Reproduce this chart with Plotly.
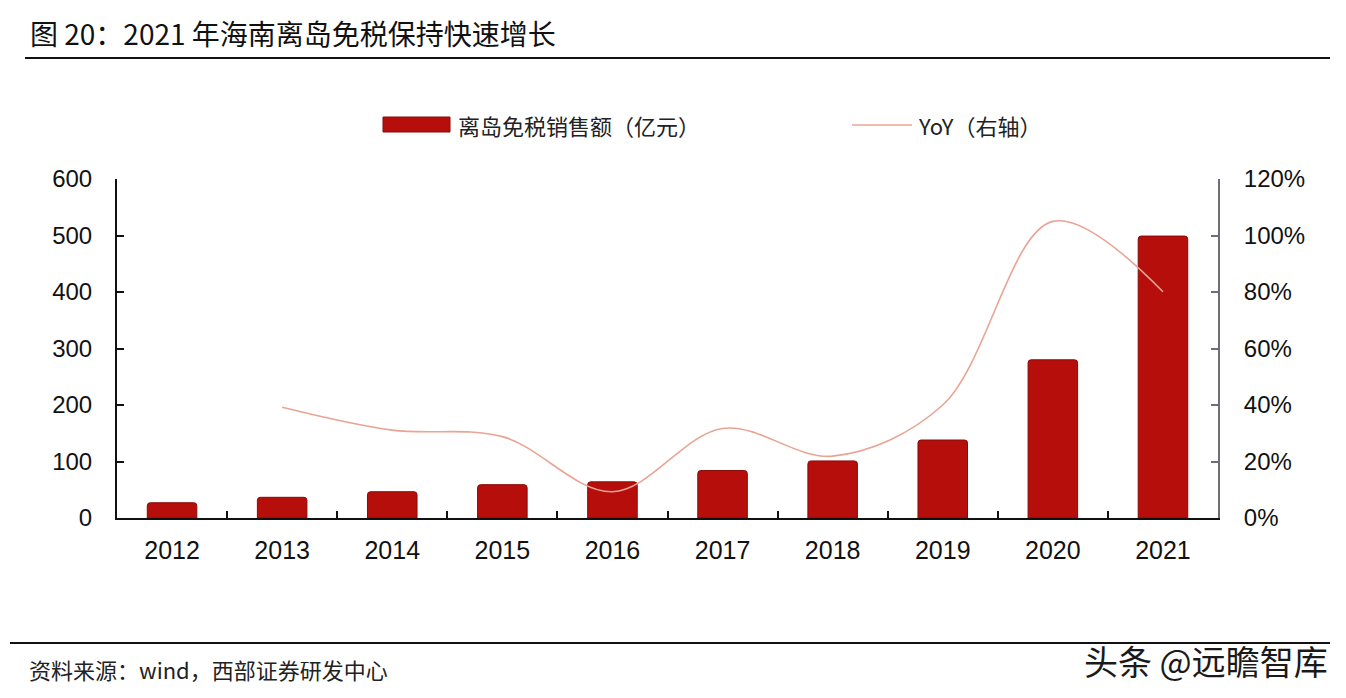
import plotly.graph_objects as go

years = ["2012", "2013", "2014", "2015", "2016", "2017", "2018", "2019", "2020", "2021"]
sales = [27, 36.6, 46.5, 59, 64, 84, 101, 138, 280, 499]
yoy = [None, 39.2, 31.1, 28.8, 9.3, 31.7, 21.9, 40.0, 105.0, 80.1]
left_ticks = [0, 100, 200, 300, 400, 500, 600]
right_ticks = [0, 20, 40, 60, 80, 100, 120]
right_labels = ["0%", "20%", "40%", "60%", "80%", "100%", "120%"]
bar_name = "离岛免税销售额（亿元）"
line_name = "YoY（右轴）"

CJK = "Noto Sans CJK SC"
NUM = "Liberation Sans, Arial"
BAR_COLOR = "#B60F0B"
LINE_COLOR = "#E9A493"

fig = go.Figure()
fig.add_trace(go.Bar(
    x=years, y=sales, name=bar_name,
    marker=dict(color=BAR_COLOR, line=dict(color="#8A0A08", width=1), cornerradius=3),
    width=0.45, showlegend=False,
))
fig.add_trace(go.Scatter(
    x=years, y=yoy, name=line_name, yaxis="y2", mode="lines",
    line=dict(color=LINE_COLOR, width=1.6, shape="spline", smoothing=1.0),
    connectgaps=False, showlegend=False,
))

# page has an 8px body margin; plot area targets x 117..1218, y 179..518 in page pixels
fig.update_layout(
    width=1346, height=698,
    paper_bgcolor="white", plot_bgcolor="white",
    margin=dict(l=109, r=136, t=171, b=188, autoexpand=False),
    font=dict(family=NUM, size=24, color="#111"),
    xaxis=dict(
        type="category", showline=True, linecolor="#111", linewidth=2,
        ticks="inside", ticklen=7, tickcolor="#111", tickwidth=2, tickson="boundaries",
        tickfont=dict(family=NUM, size=25, color="#111"), showgrid=False,
        ticklabelstandoff=9,
    ),
    yaxis=dict(
        range=[0, 600], tickvals=left_ticks, showline=True, linecolor="#111", linewidth=2,
        ticks="inside", ticklen=7, tickcolor="#111", tickwidth=2, showgrid=False,
        zeroline=False, tickfont=dict(family=NUM, size=24, color="#111"),
        ticklabelstandoff=18,
    ),
    yaxis2=dict(
        range=[0, 120], tickvals=right_ticks, ticktext=right_labels, overlaying="y", side="right",
        showline=True, linecolor="#6E6E76", linewidth=2,
        ticks="inside", ticklen=7, tickcolor="#6E6E76", tickwidth=2, showgrid=False,
        zeroline=False, tickfont=dict(family=NUM, size=24, color="#111"),
        ticklabelstandoff=19,
    ),
    showlegend=False,
)

def px_x(p):
    return (p - 117) / 1101

def px_y(p):
    return (518 - p) / 339

# title
fig.add_annotation(
    xref="paper", yref="paper", x=px_x(28), y=px_y(33),
    xanchor="left", yanchor="middle", showarrow=False,
    text="图 20：2021 年海南离岛免税保持快速增长",
    font=dict(family=CJK, size=28, color="#111"),
)
# legend (manual)
fig.add_shape(type="rect", xref="paper", yref="paper",
              x0=px_x(383), x1=px_x(450), y0=px_y(117), y1=px_y(132),
              fillcolor=BAR_COLOR, line=dict(color="#8A0A08", width=1))
fig.add_annotation(
    xref="paper", yref="paper", x=px_x(456), y=px_y(125),
    xanchor="left", yanchor="middle", showarrow=False,
    text=bar_name, font=dict(family=CJK, size=22, color="#222"),
)
fig.add_shape(type="line", xref="paper", yref="paper",
              x0=px_x(852), x1=px_x(912), y0=px_y(125), y1=px_y(125),
              line=dict(color=LINE_COLOR, width=1.6))
fig.add_annotation(
    xref="paper", yref="paper", x=px_x(916), y=px_y(125),
    xanchor="left", yanchor="middle", showarrow=False,
    text=line_name, font=dict(family=CJK, size=22, color="#222"),
)
# source
fig.add_annotation(
    xref="paper", yref="paper", x=px_x(27), y=px_y(669),
    xanchor="left", yanchor="middle", showarrow=False,
    text="资料来源：wind，西部证券研发中心",
    font=dict(family=CJK, size=22, color="#222"),
)
# watermark
fig.add_annotation(
    xref="paper", yref="paper", x=px_x(1330), y=px_y(660),
    xanchor="right", yanchor="middle", showarrow=False,
    text="头条 @远瞻智库",
    font=dict(family=CJK, size=34, color="#1a1a1a"),
)

fig.add_shape(type="line", xref="paper", yref="paper",
              x0=px_x(25), x1=px_x(1330), y0=px_y(58), y1=px_y(58),
              line=dict(color="#111", width=2))
fig.add_shape(type="line", xref="paper", yref="paper",
              x0=px_x(10), x1=px_x(1330), y0=px_y(643), y1=px_y(643),
              line=dict(color="#111", width=2))

fig.write_html("out.html")
